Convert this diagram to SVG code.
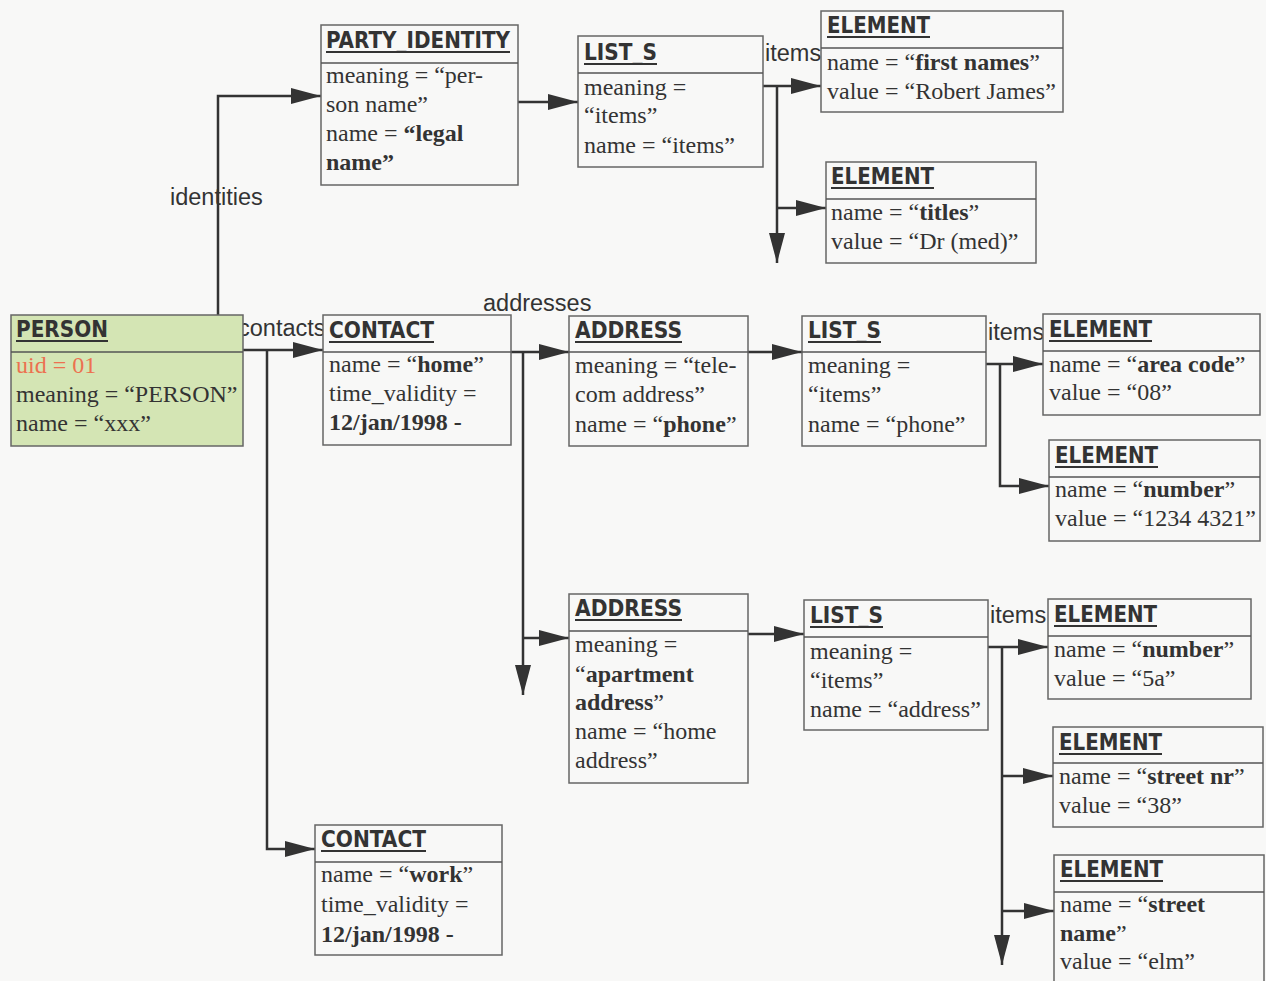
<svg xmlns="http://www.w3.org/2000/svg" width="1266" height="981" viewBox="0 0 1266 981">
<defs>
<style>
.box{fill:#f8f8f7;stroke:#666;stroke-width:1.5}
.green{fill:#d4e5b4}
.div{stroke:#555;stroke-width:1.5}
.t{font-family:"DejaVu Sans Condensed","DejaVu Sans",sans-serif;font-stretch:condensed;font-weight:bold;font-size:23px;fill:#333}
.ul{stroke:#333;stroke-width:2}
.b{font-family:"Liberation Serif","Times New Roman",serif;font-size:24px;fill:#333}
.b tspan.k{font-weight:bold}
.lab{font-family:"Liberation Sans",Arial,sans-serif;font-size:23.5px;fill:#333}
.c{fill:none;stroke:#333;stroke-width:2.5}
</style>
<marker id="ah" markerUnits="userSpaceOnUse" markerWidth="30" markerHeight="16" refX="30" refY="8" orient="auto"><path d="M0,0 L30,8 L0,16 z" fill="#333"/></marker>
</defs>
<rect x="0" y="0" width="1266" height="981" fill="#f8f8f7"/>

<g id="connectors">
<path class="c" d="M218,315 V96 H321" marker-end="url(#ah)"/>
<path class="c" d="M518,102 H578" marker-end="url(#ah)"/>
<path class="c" d="M763,86 H821" marker-end="url(#ah)"/>
<path class="c" d="M777,86 V263" marker-end="url(#ah)"/>
<path class="c" d="M777,208 H826" marker-end="url(#ah)"/>
<path class="c" d="M243,350 H323" marker-end="url(#ah)"/>
<path class="c" d="M267,350 V849 H315" marker-end="url(#ah)"/>
<path class="c" d="M511,352 H569" marker-end="url(#ah)"/>
<path class="c" d="M523,352 V695" marker-end="url(#ah)"/>
<path class="c" d="M523,638 H569" marker-end="url(#ah)"/>
<path class="c" d="M748,352 H802" marker-end="url(#ah)"/>
<path class="c" d="M986,364 H1043" marker-end="url(#ah)"/>
<path class="c" d="M1000,364 V486 H1049" marker-end="url(#ah)"/>
<path class="c" d="M748,634 H804" marker-end="url(#ah)"/>
<path class="c" d="M988,647 H1048" marker-end="url(#ah)"/>
<path class="c" d="M1002,647 V965" marker-end="url(#ah)"/>
<path class="c" d="M1002,776 H1053" marker-end="url(#ah)"/>
<path class="c" d="M1002,911 H1054" marker-end="url(#ah)"/>
<text class="lab" x="170" y="205">identities</text>
<text class="lab" x="238" y="336">contacts</text>
<text class="lab" x="483" y="311">addresses</text>
<text class="lab" x="765" y="61">items</text>
<text class="lab" x="988" y="340">items</text>
<text class="lab" x="990" y="623">items</text>
</g>

<g id="person">
<rect class="box green" x="11" y="315" width="232" height="131"/>
<line class="div" x1="11" y1="352" x2="243" y2="352"/>
<text class="t" x="16" y="337" textLength="92" lengthAdjust="spacingAndGlyphs">PERSON</text>
<line class="ul" x1="16" y1="341" x2="108" y2="341"/>
<text class="b" x="16" y="373" style="fill:#ec7150">uid = 01</text>
<text class="b" x="16" y="402">meaning = “PERSON”</text>
<text class="b" x="16" y="431">name = “xxx”</text>
</g>

<g id="party_identity">
<rect class="box" x="321" y="25" width="197" height="160"/>
<line class="div" x1="321" y1="63" x2="518" y2="63"/>
<text class="t" x="326" y="48" textLength="184" lengthAdjust="spacingAndGlyphs">PARTY_IDENTITY</text>
<line class="ul" x1="326" y1="52" x2="510" y2="52"/>
<text class="b" x="326" y="83">meaning = “per-</text>
<text class="b" x="326" y="112">son name”</text>
<text class="b" x="326" y="141">name = <tspan class="k">“legal</tspan></text>
<text class="b" x="326" y="170"><tspan class="k">name”</tspan></text>
</g>

<g id="list_s_1">
<rect class="box" x="578" y="36" width="185" height="131"/>
<line class="div" x1="578" y1="73" x2="763" y2="73"/>
<text class="t" x="584" y="60" textLength="73" lengthAdjust="spacingAndGlyphs">LIST_S</text>
<line class="ul" x1="584" y1="64" x2="657" y2="64"/>
<text class="b" x="584" y="95">meaning =</text>
<text class="b" x="584" y="123">“items”</text>
<text class="b" x="584" y="153">name = “items”</text>
</g>

<g id="element_first_names">
<rect class="box" x="821" y="11" width="242" height="101"/>
<line class="div" x1="821" y1="48" x2="1063" y2="48"/>
<text class="t" x="827" y="33" textLength="103" lengthAdjust="spacingAndGlyphs">ELEMENT</text>
<line class="ul" x1="827" y1="37" x2="930" y2="37"/>
<text class="b" x="827" y="70">name = “<tspan class="k">first names</tspan>”</text>
<text class="b" x="827" y="99">value = “Robert James”</text>
</g>

<g id="element_titles">
<rect class="box" x="826" y="162" width="210" height="101"/>
<line class="div" x1="826" y1="199" x2="1036" y2="199"/>
<text class="t" x="831" y="184" textLength="103" lengthAdjust="spacingAndGlyphs">ELEMENT</text>
<line class="ul" x1="831" y1="188" x2="934" y2="188"/>
<text class="b" x="831" y="220">name = “<tspan class="k">titles</tspan>”</text>
<text class="b" x="831" y="249">value = “Dr (med)”</text>
</g>

<g id="contact_home">
<rect class="box" x="323" y="315" width="188" height="130"/>
<line class="div" x1="323" y1="352" x2="511" y2="352"/>
<text class="t" x="329" y="338" textLength="105" lengthAdjust="spacingAndGlyphs">CONTACT</text>
<line class="ul" x1="329" y1="342" x2="434" y2="342"/>
<text class="b" x="329" y="372">name = “<tspan class="k">home</tspan>”</text>
<text class="b" x="329" y="401">time_validity =</text>
<text class="b" x="329" y="430"><tspan class="k">12/jan/1998 -</tspan></text>
</g>

<g id="contact_work">
<rect class="box" x="315" y="825" width="187" height="130"/>
<line class="div" x1="315" y1="862" x2="502" y2="862"/>
<text class="t" x="321" y="847" textLength="105" lengthAdjust="spacingAndGlyphs">CONTACT</text>
<line class="ul" x1="321" y1="851" x2="426" y2="851"/>
<text class="b" x="321" y="882">name = “<tspan class="k">work</tspan>”</text>
<text class="b" x="321" y="912">time_validity =</text>
<text class="b" x="321" y="942"><tspan class="k">12/jan/1998 -</tspan></text>
</g>

<g id="address_phone">
<rect class="box" x="569" y="316" width="179" height="130"/>
<line class="div" x1="569" y1="352" x2="748" y2="352"/>
<text class="t" x="575" y="338" textLength="107" lengthAdjust="spacingAndGlyphs">ADDRESS</text>
<line class="ul" x1="575" y1="342" x2="682" y2="342"/>
<text class="b" x="575" y="373">meaning = “tele-</text>
<text class="b" x="575" y="402">com address”</text>
<text class="b" x="575" y="432">name = “<tspan class="k">phone</tspan>”</text>
</g>

<g id="list_s_2">
<rect class="box" x="802" y="316" width="184" height="130"/>
<line class="div" x1="802" y1="352" x2="986" y2="352"/>
<text class="t" x="808" y="338" textLength="73" lengthAdjust="spacingAndGlyphs">LIST_S</text>
<line class="ul" x1="808" y1="342" x2="881" y2="342"/>
<text class="b" x="808" y="373">meaning =</text>
<text class="b" x="808" y="402">“items”</text>
<text class="b" x="808" y="432">name = “phone”</text>
</g>

<g id="element_area_code">
<rect class="box" x="1043" y="314" width="217" height="101"/>
<line class="div" x1="1043" y1="351" x2="1260" y2="351"/>
<text class="t" x="1049" y="337" textLength="103" lengthAdjust="spacingAndGlyphs">ELEMENT</text>
<line class="ul" x1="1049" y1="341" x2="1152" y2="341"/>
<text class="b" x="1049" y="372">name = “<tspan class="k">area code</tspan>”</text>
<text class="b" x="1049" y="400">value = “08”</text>
</g>

<g id="element_number_phone">
<rect class="box" x="1049" y="440" width="211" height="101"/>
<line class="div" x1="1049" y1="477" x2="1260" y2="477"/>
<text class="t" x="1055" y="463" textLength="103" lengthAdjust="spacingAndGlyphs">ELEMENT</text>
<line class="ul" x1="1055" y1="467" x2="1158" y2="467"/>
<text class="b" x="1055" y="497">name = “<tspan class="k">number</tspan>”</text>
<text class="b" x="1055" y="526">value = “1234 4321”</text>
</g>

<g id="address_home">
<rect class="box" x="569" y="594" width="179" height="189"/>
<line class="div" x1="569" y1="631" x2="748" y2="631"/>
<text class="t" x="575" y="616" textLength="107" lengthAdjust="spacingAndGlyphs">ADDRESS</text>
<line class="ul" x1="575" y1="620" x2="682" y2="620"/>
<text class="b" x="575" y="652">meaning =</text>
<text class="b" x="575" y="682">“<tspan class="k">apartment</tspan></text>
<text class="b" x="575" y="710"><tspan class="k">address</tspan>”</text>
<text class="b" x="575" y="739">name = “home</text>
<text class="b" x="575" y="768">address”</text>
</g>

<g id="list_s_3">
<rect class="box" x="804" y="600" width="184" height="130"/>
<line class="div" x1="804" y1="637" x2="988" y2="637"/>
<text class="t" x="810" y="623" textLength="73" lengthAdjust="spacingAndGlyphs">LIST_S</text>
<line class="ul" x1="810" y1="627" x2="883" y2="627"/>
<text class="b" x="810" y="659">meaning =</text>
<text class="b" x="810" y="688">“items”</text>
<text class="b" x="810" y="717">name = “address”</text>
</g>

<g id="element_number_address">
<rect class="box" x="1048" y="599" width="203" height="100"/>
<line class="div" x1="1048" y1="636" x2="1251" y2="636"/>
<text class="t" x="1054" y="622" textLength="103" lengthAdjust="spacingAndGlyphs">ELEMENT</text>
<line class="ul" x1="1054" y1="626" x2="1157" y2="626"/>
<text class="b" x="1054" y="657">name = “<tspan class="k">number</tspan>”</text>
<text class="b" x="1054" y="686">value = “5a”</text>
</g>

<g id="element_street_nr">
<rect class="box" x="1053" y="727" width="210" height="100"/>
<line class="div" x1="1053" y1="763" x2="1263" y2="763"/>
<text class="t" x="1059" y="750" textLength="103" lengthAdjust="spacingAndGlyphs">ELEMENT</text>
<line class="ul" x1="1059" y1="754" x2="1162" y2="754"/>
<text class="b" x="1059" y="784">name = “<tspan class="k">street nr</tspan>”</text>
<text class="b" x="1059" y="813">value = “38”</text>
</g>

<g id="element_street_name">
<rect class="box" x="1054" y="855" width="210" height="140"/>
<line class="div" x1="1054" y1="892" x2="1264" y2="892"/>
<text class="t" x="1060" y="877" textLength="103" lengthAdjust="spacingAndGlyphs">ELEMENT</text>
<line class="ul" x1="1060" y1="881" x2="1163" y2="881"/>
<text class="b" x="1060" y="912">name = “<tspan class="k">street</tspan></text>
<text class="b" x="1060" y="941"><tspan class="k">name</tspan>”</text>
<text class="b" x="1060" y="969">value = “elm”</text>
</g>
</svg>
